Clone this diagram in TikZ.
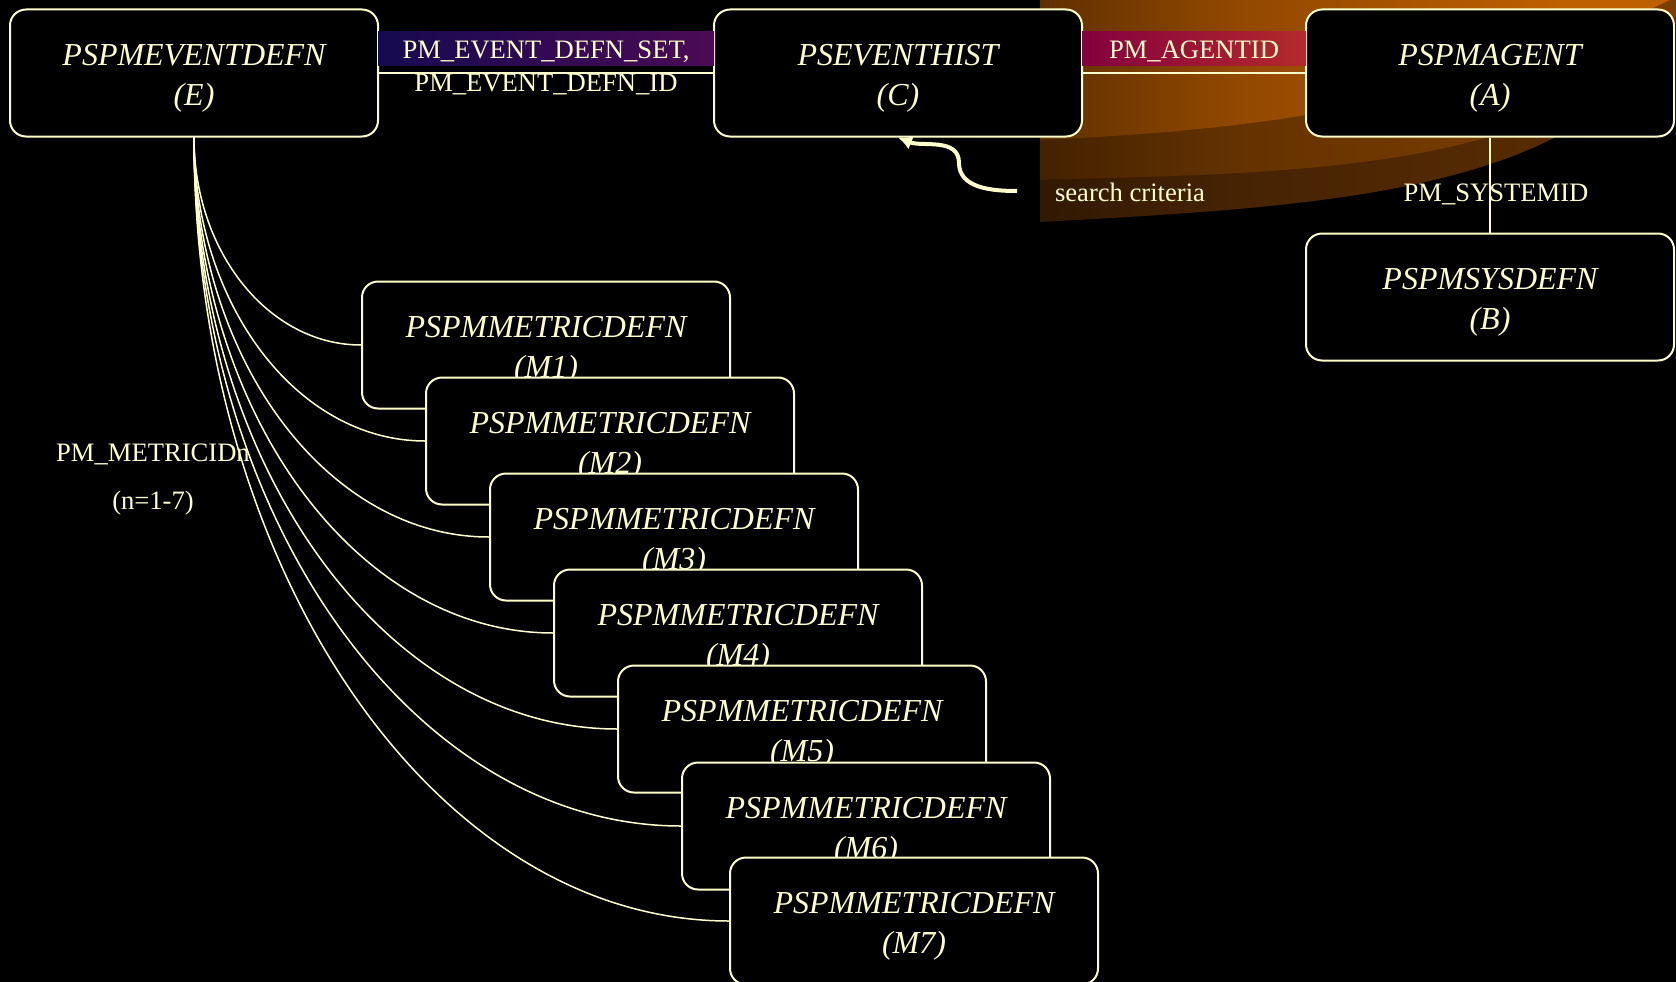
\documentclass[tikz,border=0pt]{standalone}
\usepackage{fontspec}
\setmainfont{Liberation Serif}
\usetikzlibrary{arrows.meta}
\definecolor{cream}{HTML}{FFFFCC}
\definecolor{navyband}{HTML}{160A50}
\definecolor{plumband}{HTML}{4C0A55}
\definecolor{wineband}{HTML}{84003E}
\definecolor{redband}{HTML}{B42A2C}
\pgfdeclarehorizontalshading{sweephi}{100bp}{color(0bp)=(black);color(2bp)=(black);color(17bp)=(rgb,255:red,70;green,35;blue,0);color(40bp)=(rgb,255:red,145;green,72;blue,0);color(65bp)=(rgb,255:red,190;green,95;blue,0);color(100bp)=(rgb,255:red,196;green,98;blue,0)}
\pgfdeclarehorizontalshading{sweepmid}{100bp}{color(0bp)=(black);color(2bp)=(black);color(17bp)=(rgb,255:red,50;green,25;blue,0);color(40bp)=(rgb,255:red,100;green,50;blue,0);color(63bp)=(rgb,255:red,122;green,61;blue,0);color(100bp)=(rgb,255:red,130;green,65;blue,0)}
\pgfdeclarehorizontalshading{sweeplo}{100bp}{color(0bp)=(black);color(2bp)=(black);color(17bp)=(rgb,255:red,38;green,19;blue,2);color(40bp)=(rgb,255:red,70;green,35;blue,3);color(63bp)=(rgb,255:red,86;green,43;blue,3);color(100bp)=(rgb,255:red,92;green,46;blue,3)}
\newcommand\tblname[2]{\rule{0pt}{32pt}#1\\(#2)}
\begin{document}
\begin{tikzpicture}[x=1pt,y=1pt,
tbl/.style={%
draw=cream,
line width=2pt,
rounded corners=16pt,
fill=black,
text=cream,
minimum width=368pt,
minimum height=127pt,
align=center,
font=\fontsize{32}{40}\selectfont\itshape
},
lbl/.style={%
text=cream,
inner sep=0pt,
text height=18pt,
text depth=0pt,
font=\fontsize{26.6}{33}\selectfont
},
link/.style={%
draw=cream,
line width=2pt
},
fan/.style={%
draw=cream,
line width=1.5pt
},
pointer/.style={%
draw=cream,
line width=4pt,
-{Latex[length=14pt,width=14pt]}
}
]
%% Background
\fill[black](0,0)rectangle(1676,-982);
\useasboundingbox(0,0)rectangle(1676,-982);
%% Orange sweep
\shade[shading=sweeplo]
(1040,0)--(1040,-222)..controls(1350,-205)and(1620,-190)..(1690,10)--cycle;
\shade[shading=sweepmid]
(1040,0)--(1040,-180)..controls(1300,-172)and(1600,-175)..(1690,10)--cycle;
\shade[shading=sweephi]
(1040,0)--(1040,-140)..controls(1250,-130)and(1450,-110)..(1690,10)--cycle;
%% Tables
\node[tbl]at(194,-73)(E){\tblname{PSPMEVENTDEFN}{E}};
\node[tbl]at(898,-73)(C){\tblname{PSEVENTHIST}{C}};
\node[tbl]at(1490,-73)(A){\tblname{PSPMAGENT}{A}};
\node[tbl]at(1490,-297)(B){\tblname{PSPMSYSDEFN}{B}};
%% Keys
\draw[link](E)--(C);
\draw[link](C)--(A);
\draw[link](A)--(B);
\node[lbl,text height=19pt,minimum width=336pt,minimum height=34pt,left color=navyband,right color=plumband]at(546,-49)(evset){PM\_EVENT\_DEFN\_SET,};
\node[lbl]at(546,-83)(evid){PM\_EVENT\_DEFN\_ID};
\node[lbl,text height=19pt,minimum width=224pt,minimum height=34pt,left color=wineband,right color=redband]at(1194,-49)(agid){PM\_AGENTID};
\node[lbl]at(1496,-192)(sysid){PM\_SYSTEMID};
%% Search criteria
\node[lbl]at(1130,-192)(crit){search criteria};
\coordinate(critstart)at(1017,-191);
\draw[pointer](critstart)to[out=180,in=-90]++(-58,28)to[out=90,in=-22](C.south);
%% Metric definitions
\foreach \i/\x/\y in {1/546/345,2/610/441,3/674/537,4/738/633,5/802/729,6/866/826,7/914/921}{
\node[tbl]at(\x,-\y)(M\i){\tblname{PSPMMETRICDEFN}{M\i}};
\draw[fan](E.south)..controls +(0,{-0.55*(\y-137)})and +({-0.55*(\x-378)},0)..(M\i.west);
}
\node[lbl,text height=,text depth=,align=center,font=\fontsize{26.6}{48}\selectfont]at(153,-480)(metid){PM\_METRICIDn\\(n=1-7)};
\end{tikzpicture}
\end{document}
